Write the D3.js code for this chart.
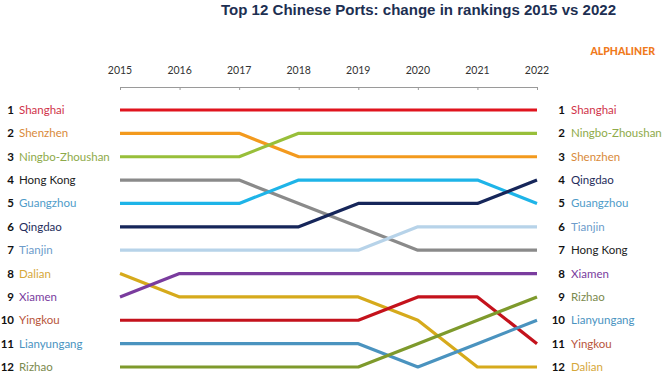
<!DOCTYPE html>
<html>
<head>
<meta charset="utf-8">
<script src="https://cdn.jsdelivr.net/npm/d3@7"></script>
<style>
  html, body { margin: 0; padding: 0; background: #ffffff; }
  svg { display: block; }
</style>
</head>
<body>
<div id="chart"></div>
<script>
// ---- data ----
const years = [2015, 2016, 2017, 2018, 2019, 2020, 2021, 2022];
const ports = ["Shanghai", "Shenzhen", "Ningbo-Zhoushan", "Hong Kong", "Guangzhou", "Qingdao",
               "Tianjin", "Dalian", "Xiamen", "Yingkou", "Lianyungang", "Rizhao"];
const rankShanghai    = [1, 1, 1, 1, 1, 1, 1, 1];
const rankShenzhen    = [2, 2, 2, 3, 3, 3, 3, 3];
const rankNingbo      = [3, 3, 3, 2, 2, 2, 2, 2];
const rankHongKong    = [4, 4, 4, 5, 6, 7, 7, 7];
const rankGuangzhou   = [5, 5, 5, 4, 4, 4, 4, 5];
const rankQingdao     = [6, 6, 6, 6, 5, 5, 5, 4];
const rankTianjin     = [7, 7, 7, 7, 7, 6, 6, 6];
const rankDalian      = [8, 9, 9, 9, 9, 10, 12, 12];
const rankXiamen      = [9, 8, 8, 8, 8, 8, 8, 8];
const rankYingkou     = [10, 10, 10, 10, 10, 9, 9, 11];
const rankLianyungang = [11, 11, 11, 11, 11, 12, 11, 10];
const rankRizhao      = [12, 12, 12, 12, 12, 11, 10, 9];
const titleText = "Top 12 Chinese Ports: change in rankings 2015 vs 2022";
const sourceText = "ALPHALINER";

const ranks = [rankShanghai, rankShenzhen, rankNingbo, rankHongKong, rankGuangzhou, rankQingdao,
               rankTianjin, rankDalian, rankXiamen, rankYingkou, rankLianyungang, rankRizhao];
const lineColors = ["#e0141e", "#f39a1e", "#98bf3a", "#8a8a8a", "#1eb4e8", "#16265a",
                    "#b7d3e9", "#d6aa1c", "#7a3c9e", "#c4121c", "#4a93bf", "#7e9a2c"];
const labelColors = ["#d0344a", "#d98a3a", "#8eaa4a", "#222222", "#4f9cc9", "#1f2d5c",
                     "#6d9ccb", "#d6a83a", "#7a3c9e", "#b8553a", "#4a93bf", "#7b8a4e"];

const W = 670, H = 380;
const svg = d3.select("#chart").append("svg").attr("width", W).attr("height", H);

const x = d3.scalePoint().domain(years).range([120, 537]);
const y = d3.scaleLinear().domain([1, 12]).range([110, 367]);

// title
svg.append("text")
  .attr("x", 221).attr("y", 15)
  .attr("textLength", 395).attr("lengthAdjust", "spacingAndGlyphs")
  .style("font-family", "'Liberation Sans Narrow','Liberation Sans',Arial,sans-serif")
  .style("font-weight", "bold").style("font-size", "15.5px")
  .style("fill", "#1d2f52")
  .text(titleText);

svg.append("text")
  .attr("x", 655).attr("y", 55).attr("text-anchor", "end")
  .style("font-family", "Lato, sans-serif").style("font-weight", "900").style("font-size", "10.5px")
  .style("fill", "#f07a1c")
  .text(sourceText);

// top axis
const axis = d3.axisBottom(x).tickSize(3).tickSizeOuter(0).tickFormat("");
const ag = svg.append("g").attr("transform", "translate(0,87)").call(axis);
ag.select(".domain").attr("stroke", "#9a9a9a").attr("stroke-width", 1);
ag.selectAll(".tick line").attr("stroke", "#9a9a9a");
svg.append("g").selectAll("text").data(years).join("text")
  .attr("x", d => x(d)).attr("y", 74).attr("text-anchor", "middle")
  .style("font-family", "Lato, sans-serif").style("font-size", "10.5px").style("fill", "#333")
  .text(d => d);

// lines
const line = d3.line().x((d, i) => x(years[i])).y(d => y(d));
svg.append("g").selectAll("path").data(ranks).join("path")
  .attr("d", d => line(d))
  .attr("fill", "none")
  .attr("stroke", (d, i) => lineColors[i])
  .attr("stroke-width", 3.2)
  .attr("stroke-linejoin", "round");

// left labels
const left = svg.append("g");
ranks.forEach((r, i) => {
  left.append("text").attr("x", 14).attr("y", y(r[0]) + 4).attr("text-anchor", "end")
    .style("font-family", "Lato, sans-serif").style("font-size", "11.5px")
    .style("font-weight", "bold").style("fill", "#111").text(r[0]);
  left.append("text").attr("x", 19).attr("y", y(r[0]) + 4)
    .style("font-family", "Lato, sans-serif").style("font-size", "11.5px")
    .style("fill", labelColors[i]).text(ports[i]);
});

// right labels
const right = svg.append("g");
ranks.forEach((r, i) => {
  const last = r[r.length - 1];
  right.append("text").attr("x", 565).attr("y", y(last) + 4).attr("text-anchor", "end")
    .style("font-family", "Lato, sans-serif").style("font-size", "11.5px")
    .style("font-weight", "bold").style("fill", "#111").text(last);
  right.append("text").attr("x", 571).attr("y", y(last) + 4)
    .style("font-family", "Lato, sans-serif").style("font-size", "11.5px")
    .style("fill", labelColors[i]).text(ports[i]);
});
</script>
</body>
</html>
